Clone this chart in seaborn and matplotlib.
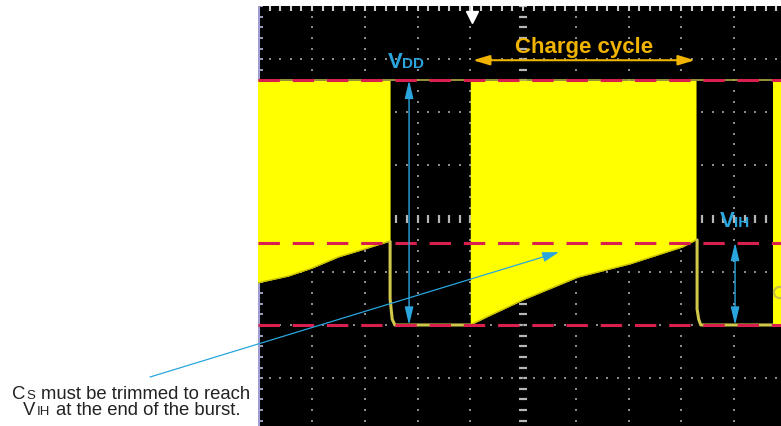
import numpy as np
import matplotlib
matplotlib.use('Agg')
import matplotlib.pyplot as plt
import matplotlib.transforms as mtransforms
import seaborn as sns

sns.set_style('white')
plt.rcParams['font.family'] = ['Liberation Sans', 'DejaVu Sans']

# Levels in scope divisions (screen is 8 div tall, 10 div wide)
VDD_LEVEL = 6.6
VIH_LEVEL = 3.55
BASE_LEVEL = 2.0

# Burst envelopes: time (div) and lower edge of the burst (div)
burst1_t = [-0.05, 0.0, 0.55, 1.0, 1.5, 2.0, 2.45, 2.48]
burst1_floor = [2.79, 2.80, 2.92, 3.07, 3.28, 3.43, 3.57, 3.57]
burst2_t = [4.0, 4.33, 5.04, 6.04, 7.03, 8.03, 8.28]
burst2_floor = [2.0, 2.16, 2.49, 2.90, 3.15, 3.47, 3.60]
burst3_t = [9.74, 9.95]
burst3_floor = [2.0, 2.0]

# Discharge and idle baseline between bursts
decay1_t = [2.48, 2.48, 2.52, 2.57, 4.0]
decay1_v = [3.57, 2.49, 2.11, 2.0, 2.0]
decay2_t = [8.30, 8.30, 8.33, 8.37, 9.74]
decay2_v = [3.60, 2.30, 2.11, 2.0, 2.0]

CHARGE_CYCLE = [4.05, 8.26]
VDD_ARROW_T = 2.84
VIH_ARROW_T = 9.02
NOTE_TARGET = (5.68, 3.37)
TRIGGER_T = 4.04

YELLOW = '#ffff00'
TRACE = '#b3ab45'
RED = '#d81f4e'
BLUE = '#2aa5de'
GOLD = '#f0b400'

fig = plt.figure(figsize=(7.81, 4.27), dpi=100)
ax = fig.add_axes([258 / 781, 0, 523 / 781, 420 / 427])
ax.set_facecolor('black')
ax.set_xlim(-0.024, 9.891)
ax.set_ylim(0.1, 8.0)
ax.set_xticks([])
ax.set_yticks([])
for s in ax.spines.values():
    s.set_visible(False)

# graticule
ys = np.arange(0, 8.01, 0.2)
xs = np.arange(0, 10.01, 0.2)
for k in range(1, 10):
    if k == 5:
        ax.plot(np.full(len(ys), k), ys, ls='none', marker='_', ms=6, mew=1.6, color='#b5b5b5', zorder=1)
    else:
        ax.plot(np.full(len(ys), k), ys, ls='none', marker='s', ms=1.5, mew=0, color='#8c8c8c', zorder=1)
for k in range(1, 8):
    if k == 4:
        ax.plot(xs, np.full(len(xs), k), ls='none', marker='|', ms=6, mew=1.6, color='#b5b5b5', zorder=1)
    else:
        ax.plot(xs, np.full(len(xs), k), ls='none', marker='s', ms=1.5, mew=0, color='#8c8c8c', zorder=1)
ax.vlines(xs[1:], 7.9, 8.0, color='#d0d0d0', lw=1.5, zorder=1)
ax.hlines(ys[1:], -0.024, 0.07, color='#b8b8e0', lw=1.2, zorder=1)
ax.axvline(-0.008, color='#9c9cd0', lw=1.5, zorder=1)

# bursts
for t, fl in [(burst1_t, burst1_floor), (burst2_t, burst2_floor), (burst3_t, burst3_floor)]:
    ax.fill_between(t, fl, VDD_LEVEL, color=YELLOW, lw=0, zorder=2)
    sns.lineplot(x=t, y=fl, color='#c8c000', lw=1, sort=False, estimator=None, ax=ax, zorder=2.5)
ax.axhline(VDD_LEVEL, color=TRACE, lw=1.2, zorder=2.2)

# discharge traces
for t, v in [(decay1_t, decay1_v), (decay2_t, decay2_v)]:
    sns.lineplot(x=t, y=v, color='#cfc84a', lw=2.2, sort=False, estimator=None, ax=ax, zorder=3)

ax.plot(9.86, 2.62, marker='o', ms=8, mfc='none', mec='#c8c040', mew=1.6, zorder=3)

# trigger marker
ax.plot(TRIGGER_T, 7.8, marker='v', ms=8, color='white', zorder=3)
ax.vlines(TRIGGER_T, 7.85, 8.0, color='white', lw=1.5, zorder=3)

# threshold lines
for lvl in [VDD_LEVEL, VIH_LEVEL, BASE_LEVEL]:
    ax.axhline(lvl, color=RED, lw=2.2, dashes=(7, 4.2), dash_capstyle='butt', zorder=4)


def dbl_arrow(x0, y0, x1, y1, color, hl, hw, lw):
    ax.annotate('', xy=(x1, y1), xytext=(x0, y0),
                arrowprops=dict(arrowstyle=f'<|-|>,head_length={hl},head_width={hw}',
                                color=color, lw=lw, shrinkA=0, shrinkB=0, mutation_scale=10),
                zorder=6)


dbl_arrow(VDD_ARROW_T, VDD_LEVEL, VDD_ARROW_T, BASE_LEVEL, BLUE, 1.08, 0.26, 1.0)
dbl_arrow(VIH_ARROW_T, VIH_LEVEL, VIH_ARROW_T, BASE_LEVEL, BLUE, 1.08, 0.26, 1.0)
dbl_arrow(CHARGE_CYCLE[0], 6.98, CHARGE_CYCLE[1], 6.98, GOLD, 1.0, 0.3, 1.5)

ax.annotate('', xy=NOTE_TARGET, xycoords='data', xytext=(150, 49), textcoords='figure pixels',
            arrowprops=dict(arrowstyle='-|>,head_length=1.0,head_width=0.3', color=BLUE,
                            lw=0.9, shrinkA=0, shrinkB=0, mutation_scale=10),
            annotation_clip=False, zorder=6)

ax.text(6.16, 7.13, 'Charge cycle', ha='center', va='baseline', fontsize=16,
        fontweight='bold', color=GOLD, zorder=6)


def text_runs(x, y, runs, transform, color, weight='normal', center=False, gap=1):
    r = fig.canvas.get_renderer()

    def ink(s, size):
        t = fig.text(0, 0, s, fontsize=size, fontweight=weight)
        w = t.get_window_extent(r).width
        t.remove()
        return w

    pieces = []
    total = 0
    for s, size in runs:
        core = s.lstrip(' ')
        lead = (len(s) - len(core)) * (ink('H H', size) - ink('HH', size))
        pieces.append((core, size, total + lead))
        total += lead + ink(core, size) + gap
    start = -total / 2 if center else 0
    for core, size, off in pieces:
        tr = mtransforms.offset_copy(transform, fig=fig, x=start + off, y=0, units='dots')
        fig.text(x, y, core, transform=tr, fontsize=size, fontweight=weight, color=color,
                 ha='left', va='baseline', zorder=7)


text_runs(2.44, 6.85, [('V', 16), ('DD', 11)], ax.transData, BLUE, weight='bold', gap=-1)
text_runs(8.73, 3.86, [('V', 16), ('IH', 11)], ax.transData, BLUE, weight='bold', gap=-1)

pix = mtransforms.IdentityTransform()
text_runs(131.5, 28, [('C', 13.3), ('S', 9.5), (' must be trimmed to reach', 13.3)], pix, '#222222', center=True)
text_runs(132.5, 12, [('V', 13.3), ('IH', 9.5), (' at the end of the burst.', 13.3)], pix, '#222222', center=True)

fig.savefig('out.png', dpi=100)
